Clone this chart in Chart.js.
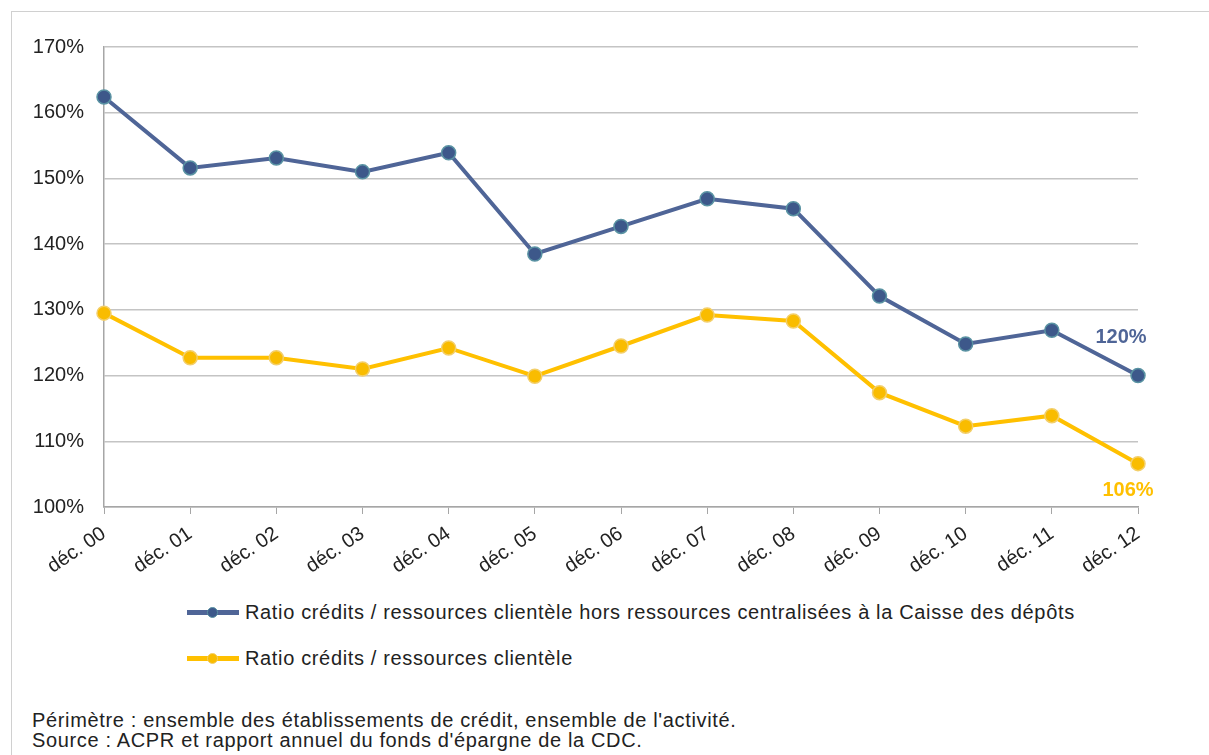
<!DOCTYPE html>
<html>
<head>
<meta charset="utf-8">
<script src="https://cdn.jsdelivr.net/npm/chart.js@4"></script>
<style>
  body { margin: 0; background: #fff; font-family: "Liberation Sans", Arial, sans-serif; color: #222; }
  #frame { position: absolute; left: 11px; top: 11px; width: 1300px; height: 900px; border-left: 1px solid #d0d0d0; border-top: 1px solid #d0d0d0; }
  #wrap { position: absolute; left: 0; top: 0; width: 1209px; height: 590px; }
  #legend { position: absolute; left: 187px; top: 0; font-size: 20px; letter-spacing: 0.65px; }
  .item { position: absolute; left: 0; width: 1000px; height: 20px; }
  .swatch { position: absolute; left: 0; top: 8px; width: 52px; height: 5px; }
  .dot { position: absolute; left: 20px; top: 5px; width: 9px; height: 9px; border-radius: 50%; border: 1px solid #5a93a3; }
  .lbl { position: absolute; left: 58px; top: 0; line-height: 20px; white-space: nowrap; }
  #notes { position: absolute; left: 32px; top: 710px; font-size: 20px; line-height: 20px; letter-spacing: 0.65px; }
</style>
</head>
<body>
<div id="frame"></div>
<div id="wrap"><canvas id="ratio"></canvas></div>
<div id="legend"></div>
<div id="notes">Périmètre : ensemble des établissements de crédit, ensemble de l'activité.<br>Source : ACPR et rapport annuel du fonds d'épargne de la CDC.</div>
<script>
const years = ['déc. 00', 'déc. 01', 'déc. 02', 'déc. 03', 'déc. 04', 'déc. 05', 'déc. 06',
               'déc. 07', 'déc. 08', 'déc. 09', 'déc. 10', 'déc. 11', 'déc. 12'];
const horsCentralise = [162.4, 151.6, 153.1, 151.0, 153.9, 138.5, 142.7, 146.9, 145.4, 132.1, 124.8, 126.9, 120.0];
const clientele = [129.5, 122.7, 122.7, 121.0, 124.2, 119.9, 124.5, 129.2, 128.3, 117.4, 112.3, 113.9, 106.6];
const seriesNames = [
    'Ratio crédits / ressources clientèle hors ressources centralisées à la Caisse des dépôts',
    'Ratio crédits / ressources clientèle'
];

const BLUE = '#4f6597';
const YELLOW = '#ffc000';
const FONT = '"Liberation Sans", Arial, sans-serif';

// value tag next to the last point of each line
const lastValue = {
    id: 'lastValue',
    afterDatasetsDraw(chart) {
        const ctx = chart.ctx;
        const shifts = [[-17, -38], [-10, 27]];
        chart.data.datasets.forEach((ds, i) => {
            const meta = chart.getDatasetMeta(i);
            const pt = meta.data[meta.data.length - 1];
            const v = ds.data[ds.data.length - 1];
            ctx.save();
            ctx.font = 'bold 20px ' + FONT;
            ctx.fillStyle = ds.borderColor;
            ctx.textAlign = 'center';
            ctx.textBaseline = 'middle';
            ctx.fillText(Math.floor(v) + '%', pt.x + shifts[i][0], pt.y + shifts[i][1]);
            ctx.restore();
        });
    }
};

const chart = new Chart(document.getElementById('ratio'), {
    type: 'line',
    data: {
        labels: years,
        datasets: [{
            label: seriesNames[0],
            data: horsCentralise,
            borderColor: BLUE,
            borderWidth: 4,
            pointRadius: 7,
            pointBackgroundColor: '#3d588a',
            pointBorderColor: '#5a93a3',
            pointBorderWidth: 1.5,
            tension: 0
        }, {
            label: seriesNames[1],
            data: clientele,
            borderColor: YELLOW,
            borderWidth: 4,
            pointRadius: 7,
            pointBackgroundColor: '#f9bc00',
            pointBorderColor: '#f3cf6a',
            pointBorderWidth: 1.5,
            tension: 0
        }]
    },
    options: {
        responsive: true,
        maintainAspectRatio: false,
        animation: false,
        layout: { padding: { top: 47, right: 71, left: 0, bottom: 0 } },
        plugins: { legend: { display: false }, tooltip: { enabled: false } },
        scales: {
            x: {
                offset: false,
                grid: { drawOnChartArea: false, drawTicks: true, tickLength: 7, color: '#a6a6a6' },
                border: { color: '#a6a6a6', width: 1.5 },
                ticks: {
                    color: '#222',
                    font: { family: FONT, size: 20 },
                    minRotation: 34,
                    maxRotation: 34,
                    autoSkip: false,
                    padding: 8
                },
                afterFit(axis) { axis.height = 83; }
            },
            y: {
                min: 100,
                max: 170,
                ticks: {
                    stepSize: 10,
                    color: '#222',
                    padding: 20,
                    font: { family: FONT, size: 20 },
                    callback: v => v + '%'
                },
                grid: { color: '#c4c4c4', lineWidth: 1.5, drawTicks: false },
                border: { color: '#a6a6a6', width: 1.5 },
                afterFit(axis) { axis.width = 104; }
            }
        }
    },
    plugins: [lastValue]
});

// legend built from the datasets, stacked under the chart
const legend = document.getElementById('legend');
const legendRows = [602, 648];
chart.data.datasets.forEach((ds, i) => {
    const item = document.createElement('div');
    item.className = 'item';
    item.style.top = legendRows[i] + 'px';
    item.innerHTML = '<div class="swatch" style="background:' + ds.borderColor + '"></div>' +
        '<div class="dot" style="background:' + ds.pointBackgroundColor + ';border-color:' + ds.pointBorderColor + '"></div>' +
        '<div class="lbl">' + ds.label + '</div>';
    legend.appendChild(item);
});
</script>
</body>
</html>
